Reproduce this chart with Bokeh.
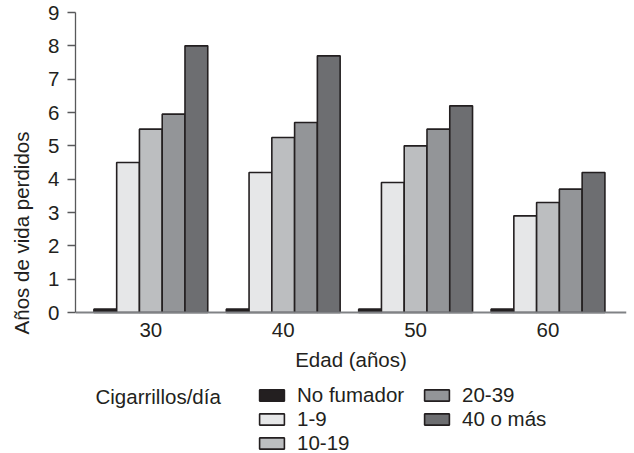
from bokeh.plotting import figure
from bokeh.models import ColumnDataSource, FixedTicker, Legend, LegendItem, Label, Range1d
from bokeh.transform import dodge
from bokeh.embed import file_html
from bokeh.resources import INLINE

# ---- data ----
edades = [30, 40, 50, 60]
no_fumador = [0.1, 0.1, 0.1, 0.1]
c1_9 = [4.5, 4.2, 3.9, 2.9]
c10_19 = [5.5, 5.25, 5.0, 3.3]
c20_39 = [5.95, 5.7, 5.5, 3.7]
c40_mas = [8.0, 7.7, 6.2, 4.2]
serie_nombres = ["No fumador", "1-9", "10-19", "20-39", "40 o más"]
y_ticks = [0, 1, 2, 3, 4, 5, 6, 7, 8, 9]
leyenda_titulo = "Cigarrillos/día"

colores = ["#231f20", "#e6e7e8", "#bcbec0", "#939598", "#6d6e71"]
FONT = "Liberation Sans"
FS = "20.5px"
TXT = "#231f20"

src = ColumnDataSource(dict(edad=edades, s0=no_fumador, s1=c1_9, s2=c10_19, s3=c20_39, s4=c40_mas))

# frame spans down to the bottom of the canvas; the x axis sits at y = 0
p = figure(width=634, height=453, output_backend="svg", toolbar_location=None,
           x_range=Range1d(24.31, 65.93), y_range=Range1d(-4.23, 9),
           min_border_left=75, min_border_right=8, min_border_top=12, min_border_bottom=0)
p.outline_line_color = None
p.xgrid.grid_line_color = None
p.ygrid.grid_line_color = None
p.background_fill_color = "white"

w = 1.72
renderers = []
for i, key in enumerate(["s0", "s1", "s2", "s3", "s4"]):
    r = p.vbar(x=dodge("edad", (i - 2) * w, range=p.x_range), top=key, width=w, bottom=0,
               source=src, fill_color=colores[i], line_color="#231f20", line_width=1.6)
    renderers.append(r)

# axes
xa = p.xaxis[0]
xa.fixed_location = 0
xa.ticker = FixedTicker(ticks=edades)
xa.major_tick_line_color = None
xa.minor_tick_line_color = None
xa.axis_line_color = "#808285"
xa.axis_line_width = 2
xa.major_label_standoff = 4
xa.major_label_text_font = FONT
xa.major_label_text_font_size = FS
xa.major_label_text_color = TXT
xa.axis_label = "Edad (años)"
xa.axis_label_text_font = FONT
xa.axis_label_text_font_size = FS
xa.axis_label_text_font_style = "normal"
xa.axis_label_text_color = TXT
xa.axis_label_standoff = 8

ya = p.yaxis[0]
ya.ticker = FixedTicker(ticks=y_ticks)
ya.bounds = (0, 9)
ya.minor_tick_line_color = None
ya.major_tick_in = 0
ya.major_tick_out = 8
ya.axis_line_color = "#58595b"
ya.axis_line_width = 1.3
ya.major_tick_line_color = "#58595b"
ya.major_tick_line_width = 1.3
ya.major_label_standoff = 8
ya.major_label_text_font = FONT
ya.major_label_text_font_size = FS
ya.major_label_text_color = TXT
ya.axis_label = "Años de vida perdidos"
ya.axis_label_text_font = FONT
ya.axis_label_text_font_size = FS
ya.axis_label_text_font_style = "normal"
ya.axis_label_text_color = TXT
ya.axis_label_standoff = 12

legend = Legend(items=[LegendItem(label=n, renderers=[r]) for n, r in zip(serie_nombres, renderers)],
                location=(181, -2), orientation="vertical", nrows=3,
                glyph_width=31, glyph_height=14, label_width=124, label_height=22,
                label_standoff=10, spacing=0, padding=0, margin=0,
                border_line_color=None, background_fill_alpha=0,
                label_text_font=FONT, label_text_font_size=FS, label_text_color=TXT)
p.add_layout(legend, "center")

titulo = Label(x=20, y=57, x_units="screen", y_units="screen", text=leyenda_titulo,
               text_font=FONT, text_font_size=FS, text_color=TXT, text_baseline="middle")
p.add_layout(titulo)

open("out.html", "w").write(file_html(p, INLINE))
